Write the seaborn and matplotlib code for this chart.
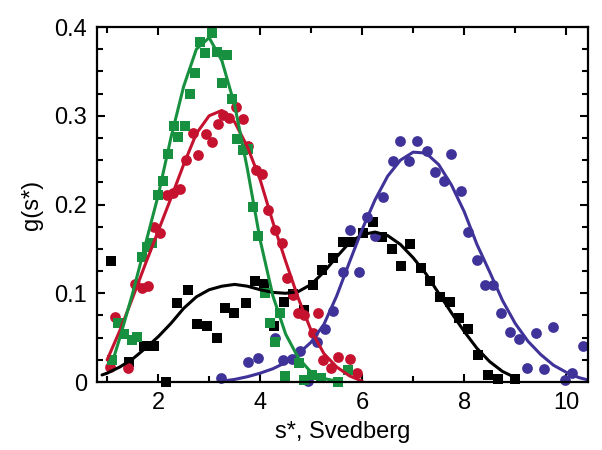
import matplotlib
matplotlib.use("Agg")
import matplotlib.pyplot as plt
from matplotlib.ticker import MultipleLocator, FuncFormatter
import seaborn as sns

sns.set_style("ticks")
plt.rcParams["font.family"] = ["Liberation Sans", "DejaVu Sans"]
plt.rcParams.update({"text.color": "black", "axes.labelcolor": "black",
                     "xtick.color": "black", "ytick.color": "black",
                     "axes.edgecolor": "black"})

# --- measured points ---
green_x = [1.10, 1.22, 1.33, 1.49, 1.59, 1.69, 1.78, 1.88, 2.00, 2.10, 2.20, 2.31, 2.39,
           2.53, 2.63, 2.73, 2.82, 2.92, 3.06, 3.16, 3.35, 3.25, 3.45, 3.55, 3.67, 3.76,
           3.86, 3.96, 4.10, 4.19, 4.29, 4.39, 4.48, 4.76, 4.86, 5.01, 5.19, 5.53, 5.73]
green_y = [0.025, 0.066, 0.054, 0.047, 0.051, 0.141, 0.152, 0.157, 0.211, 0.227, 0.257, 0.288, 0.276,
           0.288, 0.324, 0.348, 0.383, 0.371, 0.393, 0.372, 0.369, 0.337, 0.319, 0.274, 0.261, 0.262,
           0.197, 0.165, 0.100, 0.067, 0.045, 0.078, 0.007, 0.021, 0.002, 0.008, 0.004, 0.0, 0.014]

red_x = [1.06, 1.16, 1.41, 1.55, 1.69, 1.80, 1.92, 2.04, 2.18, 2.29, 2.43, 2.55, 2.69, 2.78,
         2.94, 3.05, 3.17, 3.27, 3.39, 3.53, 3.67, 3.76, 3.92, 4.04, 4.16, 4.29, 4.43, 4.53,
         4.65, 4.75, 4.86, 5.04, 5.14, 5.24, 5.39, 5.53, 5.76, 5.90]
red_y = [0.017, 0.073, 0.016, 0.110, 0.106, 0.108, 0.175, 0.168, 0.211, 0.213, 0.218, 0.250, 0.281, 0.256,
         0.280, 0.271, 0.291, 0.301, 0.297, 0.310, 0.296, 0.266, 0.239, 0.234, 0.194, 0.171, 0.157, 0.117,
         0.098, 0.078, 0.076, 0.055, 0.078, 0.025, 0.016, 0.028, 0.026, 0.010]

black_x = [1.08, 1.43, 1.73, 1.92, 2.16, 2.37, 2.59, 2.76, 2.96, 3.16, 3.32, 3.49, 3.73, 3.89,
           4.08, 4.28, 4.47, 4.65, 4.86, 5.04, 5.22, 5.42, 5.63, 5.80, 6.02, 6.21, 6.39, 6.59,
           6.76, 6.94, 7.16, 7.33, 7.52, 7.73, 7.89, 8.08, 8.27, 8.47, 8.67, 9.00]
black_y = [0.136, 0.023, 0.041, 0.041, 0.0, 0.089, 0.104, 0.065, 0.063, 0.050, 0.083, 0.078, 0.089, 0.114,
           0.110, 0.063, 0.090, 0.099, 0.081, 0.109, 0.126, 0.140, 0.158, 0.158, 0.168, 0.180, 0.163, 0.150,
           0.131, 0.156, 0.129, 0.114, 0.096, 0.090, 0.072, 0.060, 0.031, 0.008, 0.003, 0.003]

blue_x = [3.24, 3.76, 3.96, 4.29, 4.45, 4.63, 4.78, 4.94, 5.11, 5.28, 5.43, 5.63, 5.93, 5.77,
          6.10, 6.25, 6.41, 6.60, 6.75, 6.92, 7.08, 7.27, 7.43, 7.60, 7.75, 7.94, 8.08, 8.25,
          8.40, 8.57, 8.73, 8.90, 9.08, 9.24, 9.41, 9.57, 9.75, 9.98, 10.12, 10.33]
blue_y = [0.005, 0.023, 0.027, 0.050, 0.025, 0.026, 0.035, 0.001, 0.045, 0.060, 0.080, 0.124, 0.124, 0.171,
          0.186, 0.165, 0.209, 0.249, 0.272, 0.249, 0.272, 0.260, 0.237, 0.227, 0.257, 0.215, 0.169, 0.138,
          0.109, 0.109, 0.078, 0.056, 0.048, 0.016, 0.055, 0.015, 0.062, 0.002, 0.010, 0.041]

# --- fitted curves ---
green_fit_x = [1.10, 1.25, 1.50, 1.75, 2.00, 2.25, 2.50, 2.75, 3.00, 3.25, 3.50, 3.75,
               4.00, 4.25, 4.50, 4.75, 5.00, 5.25, 5.50]
green_fit_y = [0.022, 0.050, 0.100, 0.155, 0.210, 0.275, 0.333, 0.375, 0.388, 0.362, 0.312, 0.240,
               0.160, 0.097, 0.054, 0.027, 0.011, 0.004, 0.001]

red_fit_x = [1.00, 1.25, 1.50, 1.75, 2.00, 2.25, 2.50, 2.75, 3.00, 3.25, 3.50, 3.75,
             4.00, 4.25, 4.50, 4.75, 5.00, 5.25, 5.50, 5.75, 6.00]
red_fit_y = [0.025, 0.058, 0.095, 0.133, 0.170, 0.207, 0.245, 0.280, 0.300, 0.306, 0.293, 0.265,
             0.228, 0.180, 0.136, 0.094, 0.058, 0.032, 0.017, 0.007, 0.001]

black_fit_x = [0.90, 1.00, 1.25, 1.50, 1.75, 2.00, 2.25, 2.50, 2.75, 3.00, 3.25, 3.50, 3.75,
               4.00, 4.25, 4.50, 4.75, 5.00, 5.25, 5.50, 5.75, 6.00, 6.25, 6.50, 6.75,
               7.00, 7.25, 7.50, 7.75, 8.00, 8.25, 8.50, 8.75, 9.00, 9.05]
black_fit_y = [0.008, 0.010, 0.017, 0.026, 0.038, 0.051, 0.066, 0.083, 0.096, 0.104, 0.108, 0.110, 0.108,
               0.104, 0.101, 0.100, 0.102, 0.110, 0.124, 0.141, 0.157, 0.166, 0.169, 0.165, 0.155,
               0.140, 0.122, 0.100, 0.078, 0.057, 0.038, 0.023, 0.012, 0.005, 0.003]

blue_fit_x = [3.25, 3.50, 3.75, 4.00, 4.25, 4.50, 4.75, 5.00, 5.25, 5.50, 5.75, 6.00, 6.25,
              6.50, 6.75, 7.00, 7.25, 7.50, 7.75, 8.00, 8.25, 8.50, 8.75, 9.00, 9.25,
              9.50, 9.75, 10.00, 10.25, 10.45]
blue_fit_y = [0.001, 0.003, 0.006, 0.010, 0.015, 0.022, 0.032, 0.045, 0.065, 0.097, 0.135, 0.172, 0.205,
              0.232, 0.250, 0.259, 0.258, 0.245, 0.222, 0.192, 0.155, 0.124, 0.092, 0.066, 0.046,
              0.031, 0.019, 0.011, 0.005, 0.002]

GREEN = "#17913f"
RED = "#c4122f"
BLACK = "#000000"
BLUE = "#3f3399"

fig = plt.figure(figsize=(6.02, 4.5), dpi=100)
ax = fig.add_axes([0.161, 0.151, 0.816, 0.789])

lw = 2.2
sns.lineplot(x=black_fit_x, y=black_fit_y, color=BLACK, lw=lw, sort=False, estimator=None, ax=ax)
sns.lineplot(x=blue_fit_x, y=blue_fit_y, color=BLUE, lw=lw, sort=False, estimator=None, ax=ax)
sns.lineplot(x=red_fit_x, y=red_fit_y, color=RED, lw=lw, sort=False, estimator=None, ax=ax)
sns.lineplot(x=green_fit_x, y=green_fit_y, color=GREEN, lw=lw, sort=False, estimator=None, ax=ax)

ms = 52
sns.scatterplot(x=black_x, y=black_y, color=BLACK, marker="s", s=ms, linewidth=0, ax=ax, clip_on=False)
sns.scatterplot(x=blue_x, y=blue_y, color=BLUE, marker="o", s=ms + 8, linewidth=0, ax=ax, clip_on=False)
sns.scatterplot(x=red_x, y=red_y, color=RED, marker="o", s=ms + 8, linewidth=0, ax=ax, clip_on=False)
sns.scatterplot(x=green_x, y=green_y, color=GREEN, marker="s", s=ms, linewidth=0, ax=ax, clip_on=False)

ax.set_xlim(0.8, 10.43)
ax.set_ylim(0, 0.4)
ax.xaxis.set_major_locator(MultipleLocator(2))
ax.xaxis.set_minor_locator(MultipleLocator(1))
ax.yaxis.set_major_locator(MultipleLocator(0.1))
ax.yaxis.set_minor_locator(MultipleLocator(0.025))
ax.yaxis.set_major_formatter(FuncFormatter(lambda v, p: "0" if abs(v) < 1e-9 else f"{v:.1f}"))
ax.tick_params(which="both", direction="in", top=True, right=True, width=1.5, labelsize=17)
ax.tick_params(which="major", length=6, pad=7)
ax.tick_params(which="minor", length=4)
for sp in ax.spines.values():
    sp.set_linewidth(1.6)

ax.set_xlabel("s*, Svedberg", fontsize=17, labelpad=5)
ax.set_ylabel("g(s*)", fontsize=17, labelpad=8)

fig.savefig("out.png", dpi=100)
